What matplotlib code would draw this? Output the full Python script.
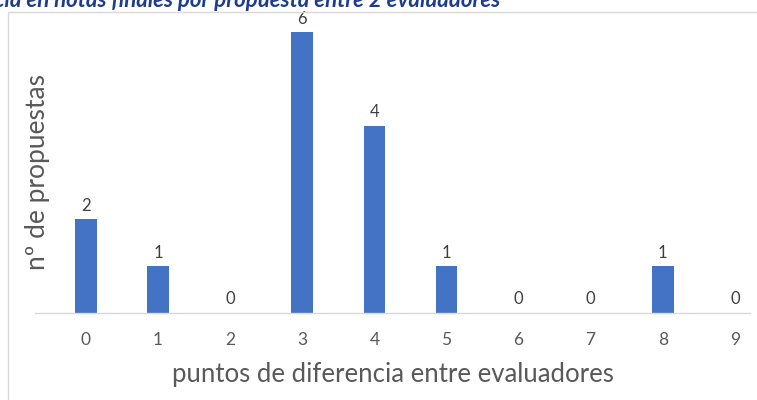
import matplotlib
matplotlib.use("Agg")
import matplotlib.pyplot as plt
from matplotlib.patches import Rectangle

categories = ["0", "1", "2", "3", "4", "5", "6", "7", "8", "9"]
values = [2, 1, 0, 6, 4, 1, 0, 0, 1, 0]
title = "Diferencia en notas finales por propuesta entre 2 evaluadores"
xlabel = "puntos de diferencia entre evaluadores"
ylabel = "nº de propuestas"

plt.rcParams['font.family'] = ['Lato', 'DejaVu Sans']
W, H = 757, 400
fig = plt.figure(figsize=(W / 100, H / 100), dpi=100)

# chart frame
fig.patches.append(Rectangle((8 / W, -0.1), 1.2, 1 - 12 / H + 0.1, transform=fig.transFigure,
                             fill=False, edgecolor='#D9D9D9', linewidth=1.0))

left, right, top, bottom = 35, 750, 20, 313
ax = fig.add_axes([left / W, 1 - bottom / H, (right - left) / W, (bottom - top) / H])
x = list(range(len(categories)))
bars = ax.bar(x, values, width=0.3, color='#4472C4')
ax.set_xlim(-0.707, 9.21)
ax.set_ylim(0, 6.26)
for xi, v in zip(x, values):
    ax.text(xi, v + 0.12, str(v), ha='center', va='bottom', fontsize=12, color='#404040')
for s in ['top', 'right', 'left']:
    ax.spines[s].set_visible(False)
ax.spines['bottom'].set_color('#D9D9D9')
ax.spines['bottom'].set_linewidth(1.0)
ax.set_yticks([])
ax.set_xticks(x)
ax.set_xticklabels(categories, fontsize=12.5, color='#595959')
ax.tick_params(axis='x', length=0, pad=14)
ax.set_xlabel(xlabel, fontsize=18.5, color='#595959', labelpad=10)
fig.text(38 / W, 1 - 172 / H, ylabel, rotation=90, ha='center', va='center', fontsize=19, color='#595959')

fig.text(500 / W, 1 - 7 / H, title, ha='right', va='baseline', fontsize=16, fontweight='bold',
         fontstyle='italic', color='#1F3C8C')

fig.savefig("out.png", dpi=100)
